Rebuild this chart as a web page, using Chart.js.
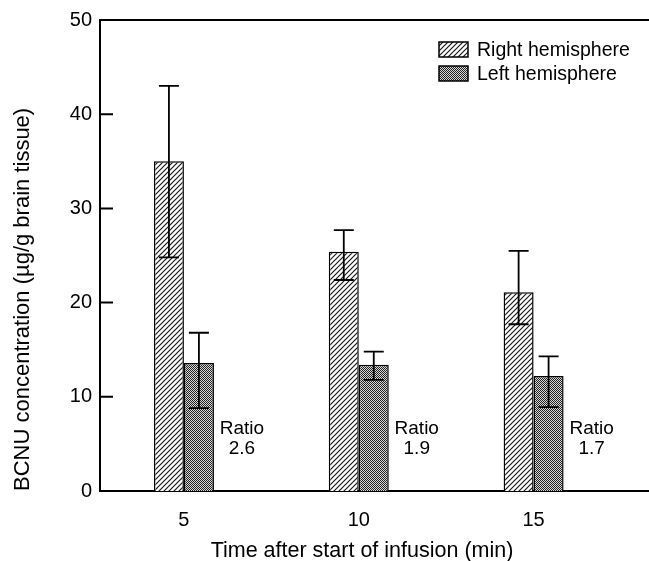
<!DOCTYPE html>
<html>
<head>
<meta charset="utf-8">
<script src="https://cdn.jsdelivr.net/npm/chart.js@4"></script>
<style>
  html, body { margin: 0; padding: 0; background: #fff; }
  canvas { display: block; }
</style>
</head>
<body>
<canvas id="grafico" width="649" height="561"></canvas>
<script>
// tiempos (min) y concentraciones BCNU (ug/g)
var tiempos = [5, 10, 15];
var derechaMedia = [35, 25.4, 21.1];
var derechaAlta = [43, 27.7, 25.5];
var derechaBaja = [24.8, 22.4, 17.7];
var izquierdaMedia = [13.6, 13.4, 12.2];
var izquierdaAlta = [16.8, 14.8, 14.3];
var izquierdaBaja = [8.8, 11.8, 8.9];
var razones = ["2.6", "1.9", "1.7"];
var ticksY = [0, 10, 20, 30, 40, 50];
var ticksX = [5, 10, 15];
var tituloX = "Time after start of infusion (min)";
var tituloY = "BCNU concentration (\u00b5g/g brain tissue)";

var fuente = "'Liberation Sans', Arial, Helvetica, sans-serif";

function patronRayas() {
    var c = document.createElement("canvas");
    c.width = 5; c.height = 5;
    var g = c.getContext("2d");
    g.fillStyle = "#fff";
    g.fillRect(0, 0, 5, 5);
    g.strokeStyle = "#1a1a1a";
    g.lineWidth = 1.2;
    g.beginPath();
    g.moveTo(0, 5); g.lineTo(5, 0);
    g.moveTo(-1, 1); g.lineTo(1, -1);
    g.moveTo(4, 6); g.lineTo(6, 4);
    g.stroke();
    return g.createPattern(c, "repeat");
}

function patronPuntos() {
    var c = document.createElement("canvas");
    c.width = 2; c.height = 2;
    var g = c.getContext("2d");
    g.fillStyle = "#d8d8d8";
    g.fillRect(0, 0, 2, 2);
    g.fillStyle = "#222";
    g.fillRect(0, 0, 1, 1);
    g.fillRect(1, 1, 1, 1);
    return g.createPattern(c, "repeat");
}

function puntos(xs, ys) {
    return xs.map(function (x, i) { return {x: x, y: ys[i]}; });
}

var ctx = document.getElementById("grafico").getContext("2d");
var rayas = patronRayas();
var gris = patronPuntos();

var datos = [
    {label: "Right hemisphere", data: puntos(tiempos, derechaMedia), backgroundColor: rayas,
     borderColor: "#000", borderWidth: 1.5, alta: derechaAlta, baja: derechaBaja},
    {label: "Left hemisphere", data: puntos(tiempos, izquierdaMedia), backgroundColor: gris,
     borderColor: "#000", borderWidth: 1.5, alta: izquierdaAlta, baja: izquierdaBaja}
];

// marco, ticks internos, barras de error, leyenda, razones y titulo x
var extras = {
    id: "extras",
    afterDatasetsDraw: function (chart) {
        var g = chart.ctx;
        var area = chart.chartArea;
        var ey = chart.scales.y;
        g.save();
        g.strokeStyle = "#000";
        g.lineWidth = 2;
        g.beginPath();
        g.moveTo(area.left, area.top);
        g.lineTo(area.right, area.top);
        ticksY.forEach(function (v) {
            var py = ey.getPixelForValue(v);
            g.moveTo(area.left, py);
            g.lineTo(area.left + 13, py);
        });
        g.stroke();

        g.lineWidth = 1.8;
        chart.data.datasets.forEach(function (ds, d) {
            chart.getDatasetMeta(d).data.forEach(function (el, i) {
                var hi = ey.getPixelForValue(ds.alta[i]);
                var lo = ey.getPixelForValue(ds.baja[i]);
                g.beginPath();
                g.moveTo(el.x, hi); g.lineTo(el.x, lo);
                g.moveTo(el.x - 10, hi); g.lineTo(el.x + 10, hi);
                g.moveTo(el.x - 10, lo); g.lineTo(el.x + 10, lo);
                g.stroke();
            });
        });

        g.fillStyle = "#000";
        g.font = "19px " + fuente;
        g.textAlign = "center";
        g.textBaseline = "middle";
        chart.getDatasetMeta(1).data.forEach(function (el, i) {
            var px = el.x + el.width / 2 + 28;
            g.fillText("Ratio", px, ey.getPixelForValue(6.6));
            g.fillText(razones[i], px, ey.getPixelForValue(4.5));
        });

        g.font = "21.5px " + fuente;
        g.fillText(tituloX, 362, 551);

        g.font = "19.5px " + fuente;
        g.textAlign = "left";
        chart.data.datasets.forEach(function (ds, d) {
            var by = 42 + d * 24;
            g.fillStyle = ds.backgroundColor;
            g.fillRect(439, by, 29, 15);
            g.lineWidth = 1.5;
            g.strokeRect(439, by, 29, 15);
            g.fillStyle = "#000";
            g.fillText(ds.label, 477, by + 9);
        });
        g.restore();
    }
};

var grafico = new Chart(ctx, {
    type: "bar",
    data: {datasets: datos},
    options: {
        responsive: false,
        animation: false,
        layout: {padding: {left: 10, top: 15, right: 0, bottom: 0}},
        datasets: {bar: {categoryPercentage: 0.343, barPercentage: 1.0, grouped: true}},
        plugins: {legend: {display: false}, tooltip: {enabled: false}},
        scales: {
            x: {
                type: "linear",
                min: 2.6,
                max: 18.3,
                offset: false,
                grid: {display: false, drawTicks: false},
                border: {display: true, color: "#000", width: 2},
                afterBuildTicks: function (s) { s.ticks = ticksX.map(function (v) { return {value: v}; }); },
                afterFit: function (s) { s.height = 70; },
                ticks: {color: "#000", padding: 17, font: {family: fuente, size: 20}},
                title: {display: false}
            },
            y: {
                min: 0,
                max: 50,
                grid: {display: false, drawTicks: false},
                border: {display: true, color: "#000", width: 2},
                afterBuildTicks: function (s) { s.ticks = ticksY.map(function (v) { return {value: v}; }); },
                afterFit: function (s) { s.width = 90; },
                ticks: {color: "#000", padding: 8, font: {family: fuente, size: 20}},
                title: {display: true, text: tituloY, color: "#000",
                        align: "start", padding: {top: 0, bottom: 0}, font: {family: fuente, size: 22}}
            }
        }
    },
    plugins: [extras]
});
</script>
</body>
</html>
